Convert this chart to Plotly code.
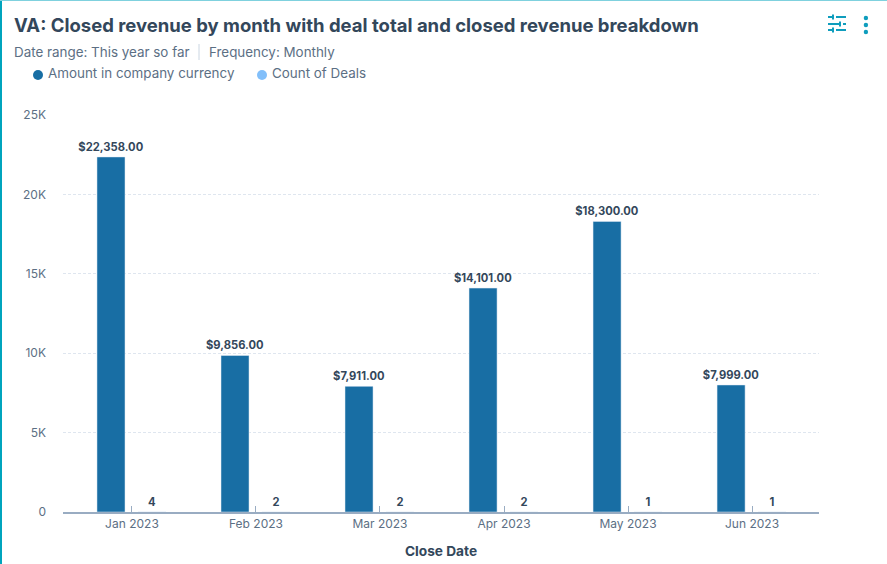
import plotly.graph_objects as go

months = ["Jan 2023", "Feb 2023", "Mar 2023", "Apr 2023", "May 2023", "Jun 2023"]
amounts = [22358, 9856, 7911, 14101, 18300, 7999]
deal_counts = [4, 2, 2, 2, 1, 1]
y_ticks = [0, 5000, 10000, 15000, 20000, 25000]
y_tick_labels = ["0", "5K", "10K", "15K", "20K", "25K"]
amount_name = "Amount in company currency"
count_name = "Count of Deals"

W, H = 887, 564
L, R, T, B = 63, 819, 115, 512
FONT = "Inter"
DARK = "#33475b"
GREY = "#5c6f84"
BLUE = "#186ea4"
LIGHT = "#82bffa"
TEAL = "#0f9dbd"


# paper coordinates are relative to the plot area
def px_x(v):
    return (v - L) / (R - L)


def px_y(v):
    return (B - v) / (B - T)


def line(x0, y0, x1, y1, color=TEAL, width=2):
    return dict(type="line", xref="paper", yref="paper", x0=px_x(x0), x1=px_x(x1), y0=px_y(y0), y1=px_y(y1),
                line=dict(color=color, width=width))


def dot(cx, cy, r, color):
    return dict(type="circle", xref="paper", yref="paper", x0=px_x(cx - r), x1=px_x(cx + r),
                y0=px_y(cy - r), y1=px_y(cy + r), fillcolor=color, line_width=0)


def label(text, x, y):
    return dict(text=text, xref="paper", yref="paper", x=px_x(x), y=px_y(y), xanchor="left", yanchor="middle",
                showarrow=False, xshift=-2, font=dict(family=FONT, size=13.4, color=GREY))


fig = go.Figure()
fig.add_trace(go.Bar(
    x=months, y=amounts, name=amount_name, width=0.226, offset=-0.282,
    marker_color=BLUE, showlegend=False,
    text=["${:,.2f}".format(v) for v in amounts], textposition="outside", constraintext="none",
    textfont=dict(family=FONT, size=11.2, color=DARK, weight=700),
    cliponaxis=False,
))
fig.add_trace(go.Bar(
    x=months, y=deal_counts, name=count_name, width=0.226, offset=0.048,
    marker_color=LIGHT, showlegend=False,
    text=deal_counts, textposition="outside", constraintext="none",
    textfont=dict(family=FONT, size=11.2, color=DARK, weight=700),
    cliponaxis=False,
))

shapes = [
    dict(type="rect", xref="paper", yref="paper", x0=px_x(0), x1=px_x(2), y0=px_y(H), y1=px_y(0),
         fillcolor="#00a4bd", line_width=0, layer="below"),
    dict(type="rect", xref="paper", yref="paper", x0=px_x(0), x1=px_x(W), y0=px_y(1), y1=px_y(0),
         fillcolor="#7fd1de", line_width=0, layer="below"),
    line(199, 44, 199, 60, color="#cbd6e2", width=1),
    dot(38, 75, 5, BLUE),
    dot(262, 75, 5, LIGHT),
]
# filter icon
for y0, a, b, c, d, knob in [(17, 828, 834, 836, 846, 833), (24, 828, 840, 843, 846, 840), (30, 828, 832, 836, 846, 833)]:
    shapes.append(line(a, y0, b, y0))
    shapes.append(line(c, y0, d, y0))
    shapes.append(line(knob, y0 - 2.5, knob, y0 + 2.5))
# kebab menu
for cy in [18, 25, 32]:
    shapes.append(dot(865.9, cy, 2.2, TEAL))

fig.update_layout(
    width=W, height=H,
    margin=dict(l=L, r=W - R, t=T, b=H - B),
    paper_bgcolor="white", plot_bgcolor="white",
    font=dict(family=FONT, size=12, color=GREY),
    barmode="overlay",
    title=dict(text="<b>VA: Closed revenue by month with deal total and closed revenue breakdown</b>",
               x=14 / W, xanchor="left", y=1 - 26 / H, yanchor="middle",
               font=dict(family=FONT, size=18.5, color=DARK)),
    annotations=[
        label("Date range: This year so far", 14, 52),
        label("Frequency: Monthly", 209, 52),
        label(amount_name, 48, 73),
        label(count_name, 272, 73),
    ],
    shapes=shapes,
    xaxis=dict(type="category", categoryorder="array", categoryarray=months, range=[-0.556, 5.54],
               ticks="inside", ticklen=6, tickcolor="#99acc2", linecolor="#99acc2", linewidth=1.5,
               showgrid=False, tickfont=dict(size=12, color=GREY), automargin=False,
               title=dict(text="<b>Close Date</b>", standoff=16, font=dict(size=13.7, color=DARK))),
    yaxis=dict(range=[0, 25000], tickvals=y_ticks, ticktext=y_tick_labels,
               gridcolor="#dfe6ef", griddash="3px,2px", gridwidth=1, zeroline=False,
               tickfont=dict(size=12, color=GREY), ticklabelstandoff=16, automargin=False),
)

fig.write_html("out.html", config=dict(displayModeBar=False), post_script="document.body.style.margin='0';")
